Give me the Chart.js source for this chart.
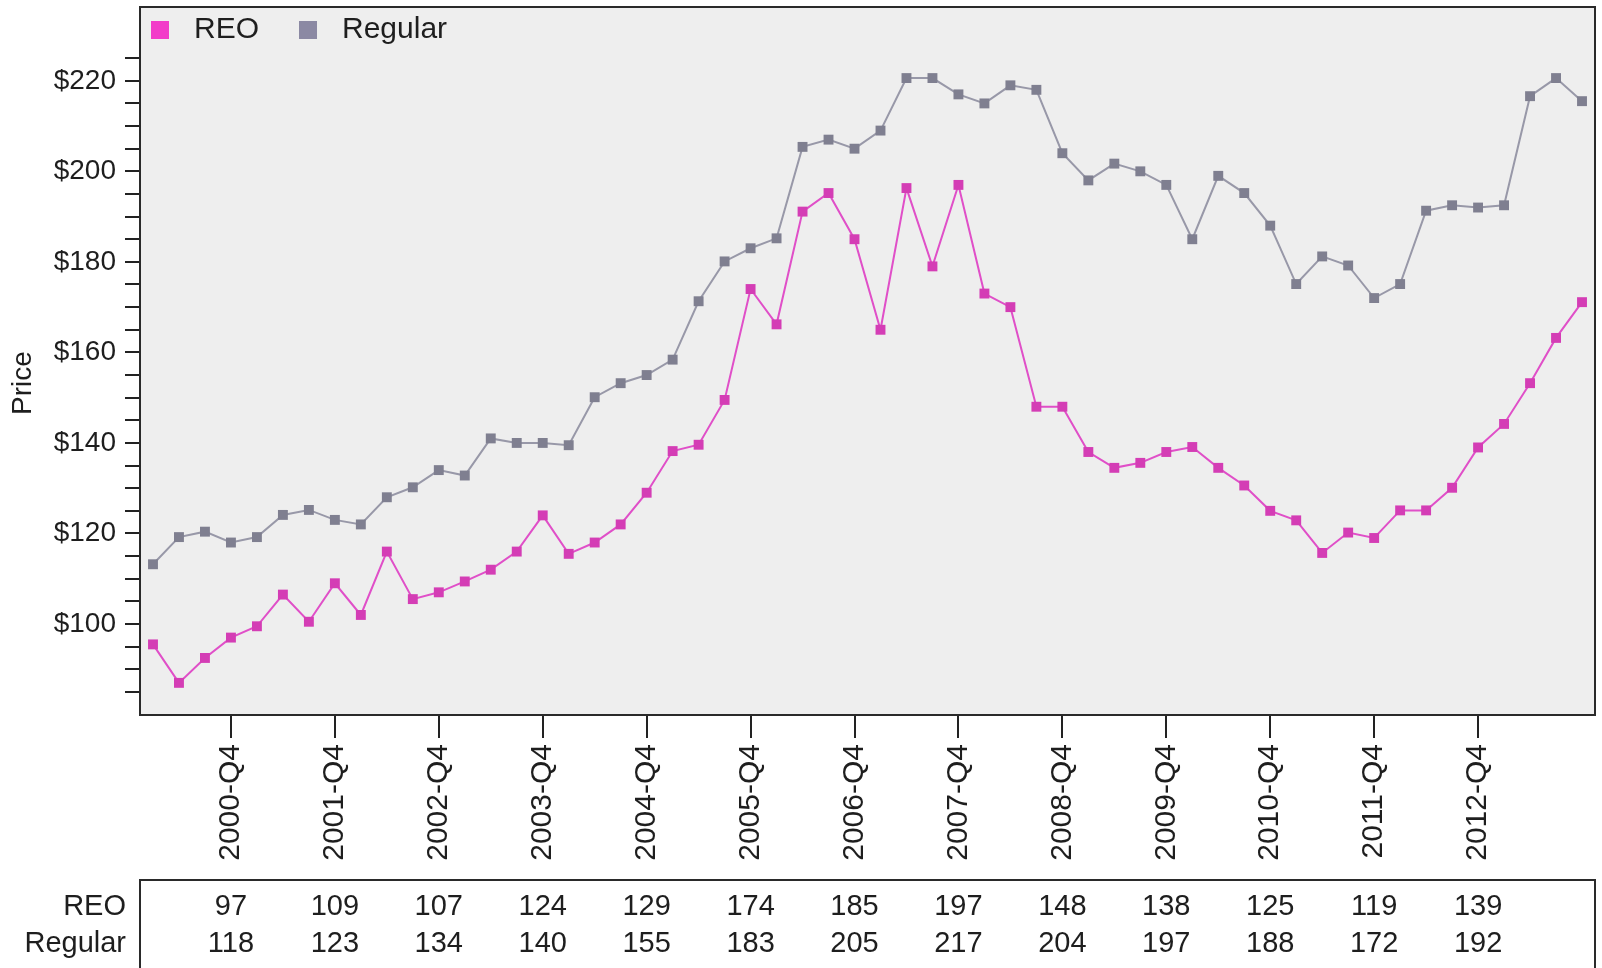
<!DOCTYPE html>
<html>
<head>
<meta charset="utf-8">
<script src="https://cdn.jsdelivr.net/npm/chart.js@4.4.1/dist/chart.umd.min.js"></script>
<style>
  html, body { margin: 0; padding: 0; background: #ffffff; }
  #wrap { width: 1602px; height: 968px; }
</style>
</head>
<body>
<div id="wrap"><canvas id="c" width="1602" height="968"></canvas></div>
<script>
// ---------------- DATA ----------------
const years = [2000, 2001, 2002, 2003, 2004, 2005, 2006, 2007, 2008, 2009, 2010, 2011, 2012, 2013];
const quarters = ['Q1', 'Q2', 'Q3', 'Q4'];
const quarterLabels = [];
years.forEach(y => quarters.forEach(q => quarterLabels.push(y + '-' + q)));

const reoPrices = [
  95.5, 87, 92.5, 97,
  99.5, 106.5, 100.5, 109,
  102, 116, 105.5, 107,
  109.4, 112, 116, 124,
  115.5, 118, 122, 129,
  138.2, 139.6, 149.5, 174,
  166.2, 191.1, 195.2, 185,
  165, 196.3, 179, 197,
  173, 170, 148, 148,
  138, 134.5, 135.6, 138,
  139.1, 134.5, 130.6, 125,
  122.9, 115.7, 120.2, 119,
  125.1, 125.1, 130.1, 139,
  144.2, 153.2, 163.2, 171.1
];
const regularPrices = [
  113.2, 119.2, 120.4, 118,
  119.2, 124.1, 125.2, 123,
  122, 128, 130.2, 134,
  132.8, 141, 140, 140,
  139.5, 150.1, 153.2, 155,
  158.4, 171.3, 180.1, 183,
  185.2, 205.4, 207, 205,
  209, 220.6, 220.6, 217,
  215, 219, 218, 204,
  198, 201.7, 200, 197,
  185, 199, 195.2, 188,
  175.1, 181.2, 179.2, 172,
  175.1, 191.3, 192.5, 192,
  192.5, 216.6, 220.6, 215.5
];
const seriesNames = ['REO', 'Regular'];
const yAxisTitle = 'Price';
const yTickValues = [85, 90, 95, 100, 105, 110, 115, 120, 125, 130, 135, 140, 145, 150, 155, 160,
  165, 170, 175, 180, 185, 190, 195, 200, 205, 210, 215, 220, 225];
const yLabelStep = 20;
const lastTableIndex = 51; // table / x-axis labels stop at 2012-Q4

// ---------------- STYLE ----------------
const FONT = "'Liberation Sans', Arial, sans-serif";
const TEXT = '#1e1e1e';
const colors = {
  reoLine: '#E04FC8', reoPoint: '#D43DB5', reoLegend: '#F23BC9',
  regLine: '#9898A8', regPoint: '#7F7F90', regLegend: '#8B89A3'
};

const isQ4 = i => quarterLabels[i].endsWith('Q4');

const framePlugin = {
  id: 'frame',
  beforeDraw(chart) {
    const { ctx, chartArea: a } = chart;
    ctx.save();
    ctx.fillStyle = '#EEEEEE';
    ctx.fillRect(a.left, a.top, a.right - a.left, a.bottom - a.top);
    ctx.restore();
  },
  afterDatasetsDraw(chart) {
    const { ctx, chartArea: a } = chart;
    ctx.save();
    ctx.strokeStyle = '#2a2a2a';
    ctx.lineWidth = 2;
    ctx.strokeRect(a.left, a.top, a.right - a.left, a.bottom - a.top);
    ctx.restore();
  }
};

const axisTitlePlugin = {
  id: 'yTitle',
  afterDraw(chart) {
    const { ctx, chartArea: a } = chart;
    ctx.save();
    ctx.font = '28px ' + FONT;
    ctx.fillStyle = TEXT;
    ctx.textAlign = 'center';
    ctx.textBaseline = 'middle';
    ctx.translate(23, (a.top + a.bottom) / 2 + 22);
    ctx.rotate(-Math.PI / 2);
    ctx.fillText(yAxisTitle, 0, 0);
    ctx.restore();
  }
};

const legendPlugin = {
  id: 'innerLegend',
  afterDraw(chart) {
    const { ctx, chartArea: a } = chart;
    const legendColors = [colors.reoLegend, colors.regLegend];
    ctx.save();
    ctx.font = '30px ' + FONT;
    ctx.textBaseline = 'middle';
    ctx.textAlign = 'left';
    const cy = a.top + 23;
    let x = a.left + 11;
    chart.data.datasets.forEach((ds, i) => {
      ctx.fillStyle = legendColors[i];
      ctx.fillRect(x, cy - 9, 18, 18);
      ctx.fillStyle = TEXT;
      const tx = x + 43;
      ctx.fillText(ds.label, tx, cy);
      x = tx + ctx.measureText(ds.label).width + 40;
    });
    ctx.restore();
  }
};

const tablePlugin = {
  id: 'valueTable',
  afterDraw(chart) {
    const { ctx, chartArea: a } = chart;
    const xs = chart.scales.x;
    const top = 880;
    const rows = [907, 944];
    ctx.save();
    ctx.strokeStyle = '#2a2a2a';
    ctx.lineWidth = 2;
    ctx.beginPath();
    ctx.moveTo(a.left, chart.height);
    ctx.lineTo(a.left, top);
    ctx.lineTo(a.right, top);
    ctx.lineTo(a.right, chart.height);
    ctx.stroke();
    ctx.font = '29px ' + FONT;
    ctx.fillStyle = TEXT;
    ctx.textBaseline = 'middle';
    ctx.textAlign = 'right';
    seriesNames.forEach((n, r) => ctx.fillText(n, a.left - 14, rows[r]));
    ctx.textAlign = 'center';
    chart.data.datasets.forEach((ds, r) => {
      ds.data.forEach((v, i) => {
        if (isQ4(i) && i <= lastTableIndex) ctx.fillText(String(Math.round(v)), xs.getPixelForValue(i), rows[r]);
      });
    });
    ctx.restore();
  }
};

new Chart(document.getElementById('c'), {
  type: 'line',
  data: {
    labels: quarterLabels,
    datasets: [
      {
        label: seriesNames[0], data: reoPrices,
        borderColor: colors.reoLine, borderWidth: 2,
        pointStyle: 'rect', pointRadius: 7, pointBorderWidth: 0,
        pointBackgroundColor: colors.reoPoint, backgroundColor: colors.reoPoint,
        tension: 0, fill: false
      },
      {
        label: seriesNames[1], data: regularPrices,
        borderColor: colors.regLine, borderWidth: 2,
        pointStyle: 'rect', pointRadius: 7, pointBorderWidth: 0,
        pointBackgroundColor: colors.regPoint, backgroundColor: colors.regPoint,
        tension: 0, fill: false
      }
    ]
  },
  options: {
    responsive: false,
    animation: false,
    devicePixelRatio: 1,
    layout: { padding: { top: 6, right: 1, left: 0, bottom: 0 } },
    plugins: { legend: { display: false }, tooltip: { enabled: false } },
    scales: {
      x: {
        type: 'category',
        offset: true,
        border: { display: false },
        grid: { drawOnChartArea: false, drawTicks: true, tickLength: 23, color: '#222', lineWidth: 2, offset: false },
        ticks: {
          autoSkip: false, minRotation: 90, maxRotation: 90, padding: 6,
          color: TEXT, font: { family: FONT, size: 30 }
        },
        afterBuildTicks(axis) { axis.ticks = axis.ticks.filter(t => isQ4(t.value) && t.value <= lastTableIndex); },
        afterFit(scale) { scale.height = 253; scale.paddingLeft = 0; scale.paddingRight = 0; }
      },
      y: {
        min: 79.9, max: 236.3,
        border: { display: false },
        grid: { drawOnChartArea: false, drawTicks: true, tickLength: 15, color: '#222', lineWidth: 2 },
        afterBuildTicks(axis) { axis.ticks = yTickValues.map(v => ({ value: v })); },
        ticks: {
          autoSkip: false, padding: 9, color: TEXT, font: { family: FONT, size: 28 },
          callback: v => (v % yLabelStep === 0 ? '$' + v : '')
        },
        title: { display: false },
        afterFit(scale) { scale.width = 140; scale.paddingTop = 0; scale.paddingBottom = 0; }
      }
    }
  },
  plugins: [framePlugin, axisTitlePlugin, legendPlugin, tablePlugin]
});
</script>
</body>
</html>
